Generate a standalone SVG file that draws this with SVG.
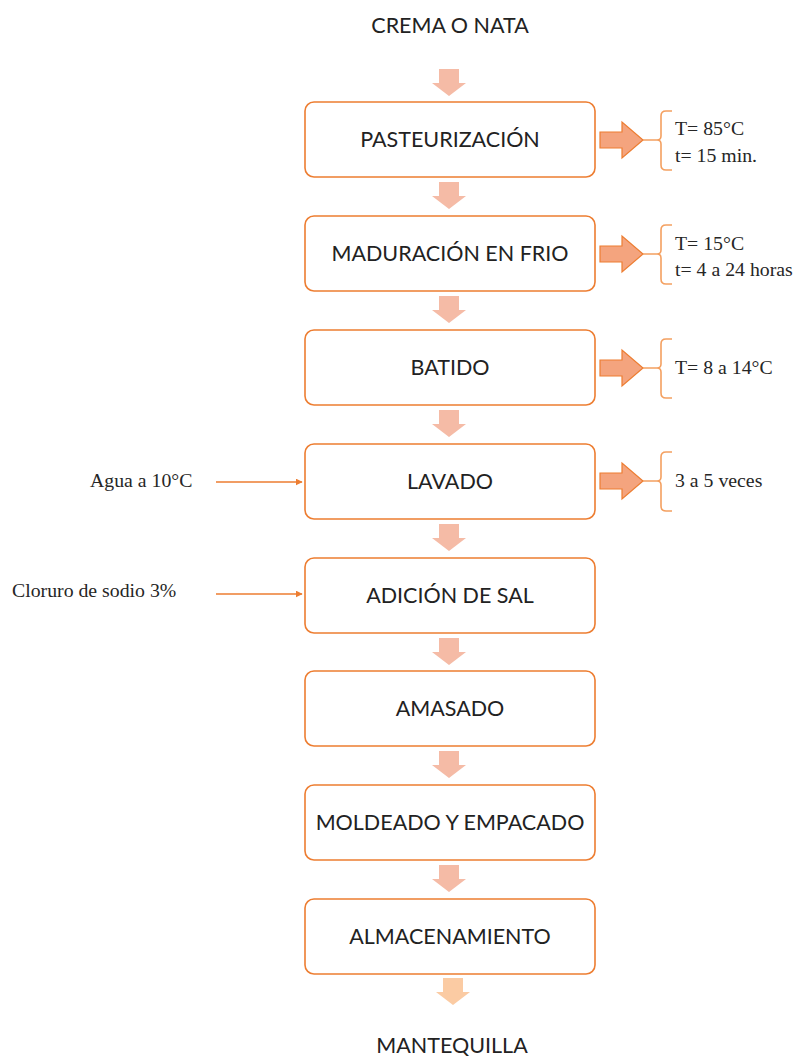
<svg xmlns="http://www.w3.org/2000/svg" xmlns:xlink="http://www.w3.org/1999/xlink" width="806" height="1059" viewBox="0 0 806 1059">
  <style>
    .box { fill: #ffffff; stroke: #ED7D31; stroke-width: 1.6; }
    .label { font-family: Lato, "Open Sans", sans-serif; font-size: 21.5px; fill: #222222; text-anchor: middle; }
    .note { font-family: "Liberation Serif", "Times New Roman", serif; font-size: 19.8px; fill: #262626; }
    .down { fill: #F5BBA6; }
    .right { fill: #F4A47E; stroke: #ED7D31; stroke-width: 1.2; }
    .brace { fill: none; stroke: #F4A060; stroke-width: 1.6; }
    .feed { fill: none; stroke: #ED7D31; stroke-width: 1.5; }
  </style>
  <defs>
    <marker id="head" viewBox="0 0 10 10" refX="9" refY="5" markerWidth="7" markerHeight="7" markerUnits="userSpaceOnUse" orient="auto">
      <path d="M0,0 L10,5 L0,10 z" fill="#ED7D31"/>
    </marker>
    <!-- block arrow pointing down, origin at top centre -->
    <polygon id="dArrow" points="-10,0 10,0 10,14 17,14 0,27 -17,14 -10,14"/>
    <!-- block arrow pointing right, origin at left middle -->
    <polygon id="rArrow" points="0,-8 22,-8 22,-18 43,0 22,18 22,8 0,8"/>
    <!-- brace with a stem on its left, origin at the stem's middle -->
    <path id="brace" d="M0,0 L16,0 M29,-29 L23,-29 Q18,-29 18,-24 L18,-4 Q18,0 14,0 Q18,0 18,4 L18,25 Q18,30 23,30 L29,30"/>
  </defs>

  <!-- start and end products -->
  <text class="label" x="450" y="33">CREMA O NATA</text>
  <text class="label" x="452" y="1053">MANTEQUILLA</text>

  <!-- process steps -->
  <g id="n1"><rect class="box" x="305" y="102" width="290" height="75" rx="9"/><text class="label" x="450" y="147">PASTEURIZACIÓN</text></g>
  <g id="n2"><rect class="box" x="305" y="216" width="290" height="75" rx="9"/><text class="label" x="450" y="261">MADURACIÓN EN FRIO</text></g>
  <g id="n3"><rect class="box" x="305" y="330" width="290" height="75" rx="9"/><text class="label" x="450" y="375">BATIDO</text></g>
  <g id="n4"><rect class="box" x="305" y="444" width="290" height="75" rx="9"/><text class="label" x="450" y="489">LAVADO</text></g>
  <g id="n5"><rect class="box" x="305" y="558" width="290" height="75" rx="9"/><text class="label" x="450" y="603">ADICIÓN DE SAL</text></g>
  <g id="n6"><rect class="box" x="305" y="671" width="290" height="75" rx="9"/><text class="label" x="450" y="716">AMASADO</text></g>
  <g id="n7"><rect class="box" x="305" y="785" width="290" height="75" rx="9"/><text class="label" x="450" y="830">MOLDEADO Y EMPACADO</text></g>
  <g id="n8"><rect class="box" x="305" y="899" width="290" height="75" rx="9"/><text class="label" x="450" y="944">ALMACENAMIENTO</text></g>

  <!-- conditions for each step -->
  <g id="c1">
    <use xlink:href="#rArrow" class="right" x="600" y="140"/>
    <use xlink:href="#brace" class="brace" x="643" y="140"/>
    <text class="note" x="675" y="135">T= 85°C</text>
    <text class="note" x="675" y="162">t= 15 min.</text>
  </g>
  <g id="c2">
    <use xlink:href="#rArrow" class="right" x="600" y="254"/>
    <use xlink:href="#brace" class="brace" x="643" y="254"/>
    <text class="note" x="675" y="250">T= 15°C</text>
    <text class="note" x="675" y="276">t= 4 a 24 horas</text>
  </g>
  <g id="c3">
    <use xlink:href="#rArrow" class="right" x="600" y="368"/>
    <use xlink:href="#brace" class="brace" x="643" y="368"/>
    <text class="note" x="675" y="374">T= 8 a 14°C</text>
  </g>
  <g id="c4">
    <use xlink:href="#rArrow" class="right" x="600" y="481"/>
    <use xlink:href="#brace" class="brace" x="643" y="481"/>
    <text class="note" x="675" y="487">3 a 5 veces</text>
  </g>

  <!-- inputs -->
  <g id="in1"><text class="note" x="90" y="487">Agua a 10°C</text></g>
  <g id="in2"><text class="note" x="12" y="597">Cloruro de sodio 3%</text></g>

  <!-- connectors -->
  <g id="connectors">
    <use xlink:href="#dArrow" class="down" x="449" y="69"/>
    <use xlink:href="#dArrow" class="down" x="449" y="182"/>
    <use xlink:href="#dArrow" class="down" x="449" y="296"/>
    <use xlink:href="#dArrow" class="down" x="449" y="410"/>
    <use xlink:href="#dArrow" class="down" x="449" y="524"/>
    <use xlink:href="#dArrow" class="down" x="449" y="638"/>
    <use xlink:href="#dArrow" class="down" x="449" y="751"/>
    <use xlink:href="#dArrow" class="down" x="449" y="865"/>
    <use xlink:href="#dArrow" x="453" y="978" fill="#FBCBA3"/>
    <line class="feed" x1="216" y1="482" x2="302" y2="482" marker-end="url(#head)"/>
    <line class="feed" x1="216" y1="594" x2="302" y2="594" marker-end="url(#head)"/>
  </g>
</svg>
